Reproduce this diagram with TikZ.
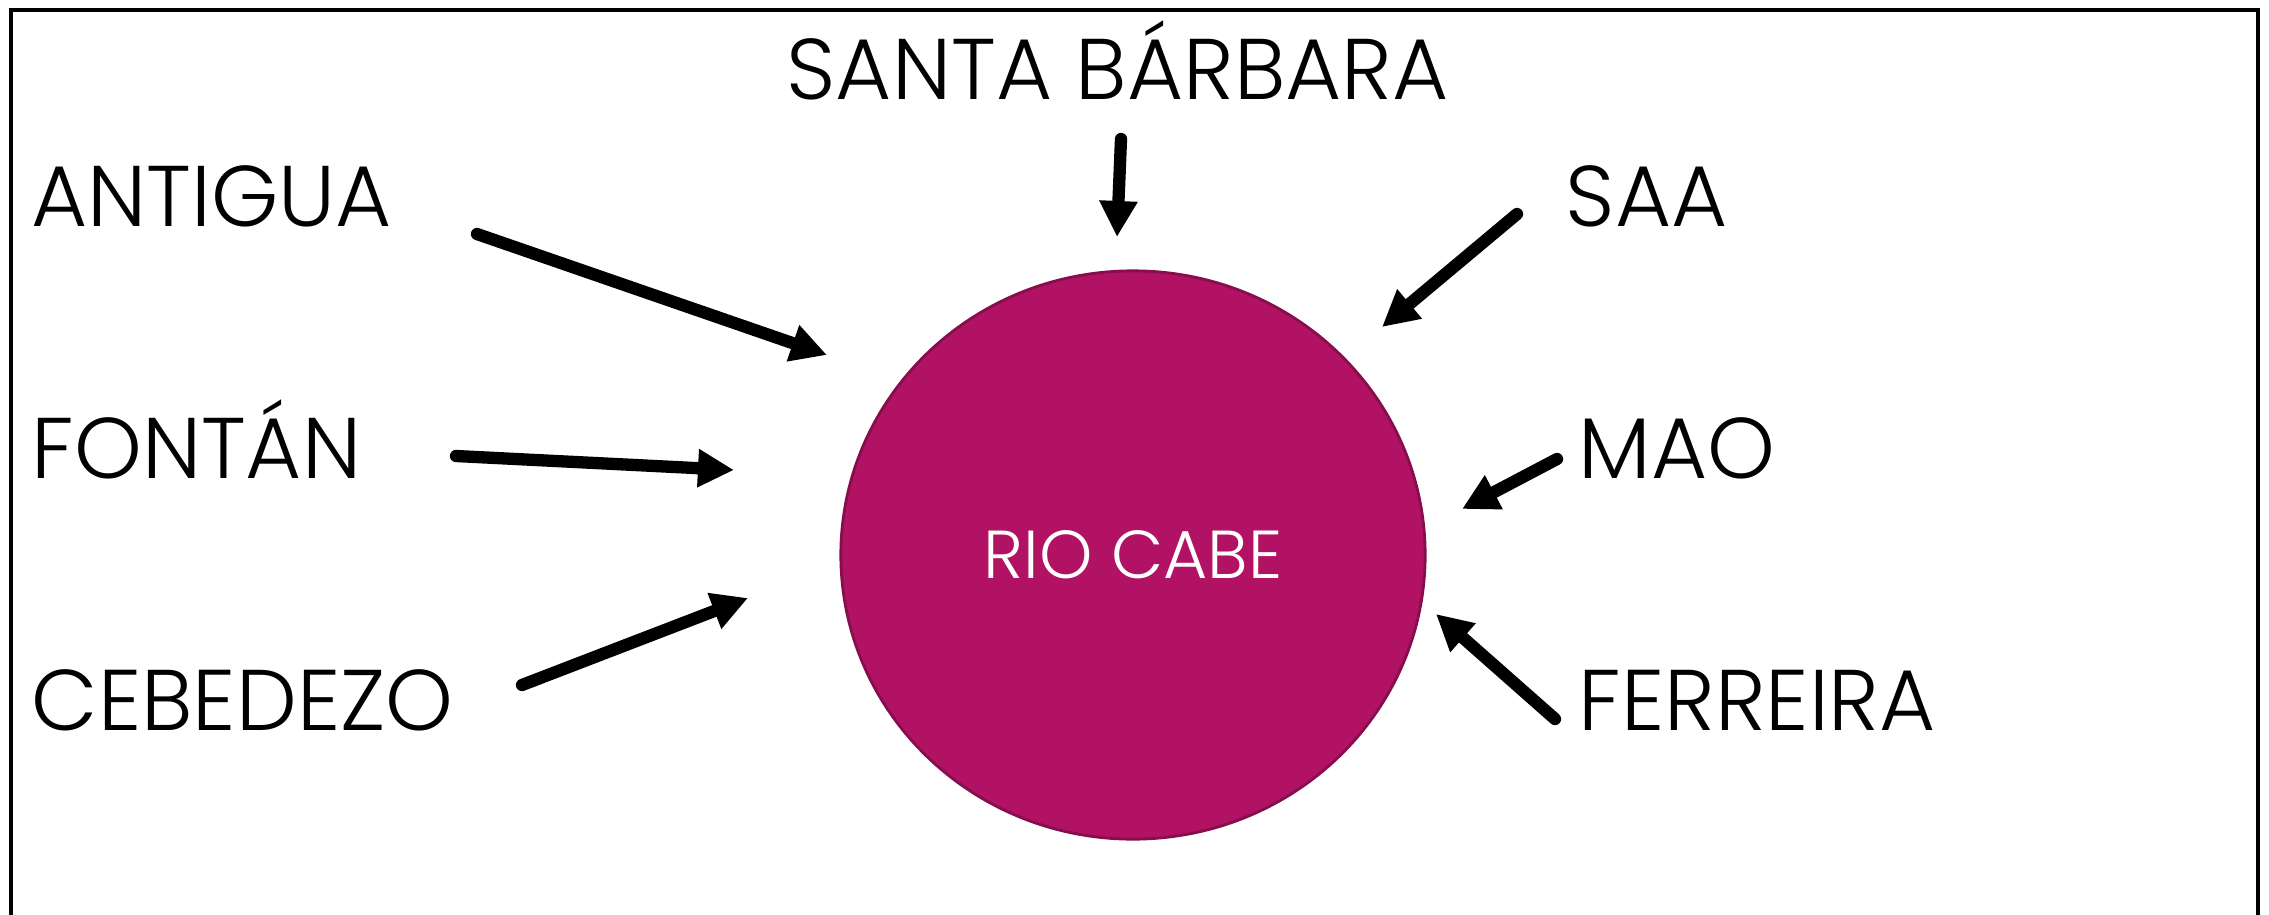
\documentclass[tikz,border=0pt]{standalone}
\usepackage{fontspec}
\setmainfont{Poppins}[UprightFont={* Light}]
\usepackage{tikz}
\usetikzlibrary{arrows.meta,shapes.geometric}

\definecolor{rio}{RGB}{177,18,99}
\definecolor{riobord}{RGB}{135,14,76}

\begin{document}
\begin{tikzpicture}[x=0.01cm,y=-0.01cm]
\tikzset{place/.style = {inner sep=0pt,anchor=base west,font=\fontsize{24.5}{30}\selectfont}}
\tikzset{flow/.style = {line width=3.5pt,line cap=round,-{Triangle[length=3.6mm,width=3.6mm]}}}
\useasboundingbox (0,0) rectangle (2269,915);
% frame
\draw[line width=1.2pt] (11,915) -- (11,10) -- (2258,10) -- (2258,915);
% river
\node[ellipse,fill=rio,draw=riobord,line width=0.8pt,minimum width=5.84cm,minimum height=5.68cm,
      text=white,font=\fontsize{19.3}{24}\selectfont] (rio) at (1133,555) {RIO CABE};
% places
\node[place] (antigua)  at (31,226)   {ANTIGUA};
\node[place] (fontan)   at (31,478)   {FONTÁN};
\node[place] (cebedezo) at (31,730)   {CEBEDEZO};
\node[place] (santab)   at (786,100)  {SANTA BÁRBARA};
\node[place] (saa)      at (1565,226) {SAA};
\node[place] (mao)      at (1578,478) {MAO};
\node[place] (ferreira) at (1578,730) {FERREIRA};
% arrow ends
\coordinate (antigua-s)  at (477,234);  \coordinate (antigua-e)  at (827,355);
\coordinate (fontan-s)   at (456,456);  \coordinate (fontan-e)   at (734,470);
\coordinate (cebedezo-s) at (522,685);  \coordinate (cebedezo-e) at (748,598);
\coordinate (santab-s)   at (1121,139); \coordinate (santab-e)   at (1117,237);
\coordinate (saa-s)      at (1517,214); \coordinate (saa-e)      at (1382,327);
\coordinate (mao-s)      at (1557,459); \coordinate (mao-e)      at (1462,509);
\coordinate (ferreira-s) at (1555,719); \coordinate (ferreira-e) at (1436,614);
% arrows
\draw[flow] (antigua-s)  to (antigua-e);
\draw[flow] (fontan-s)   to (fontan-e);
\draw[flow] (cebedezo-s) to (cebedezo-e);
\draw[flow] (santab-s)   to (santab-e);
\draw[flow] (saa-s)      to (saa-e);
\draw[flow] (mao-s)      to (mao-e);
\draw[flow] (ferreira-s) to (ferreira-e);
\end{tikzpicture}
\end{document}
